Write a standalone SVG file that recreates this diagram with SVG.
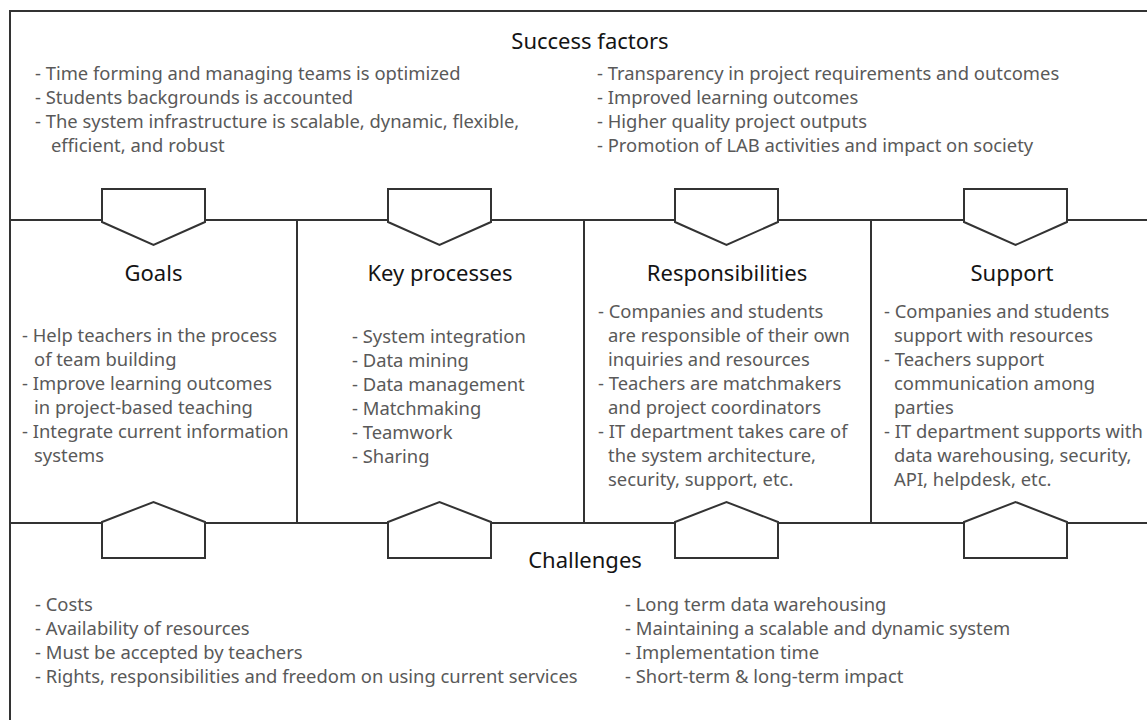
<svg xmlns="http://www.w3.org/2000/svg" width="1147" height="720" viewBox="0 0 1147 720">
  <style>
    .frame { fill: none; stroke: #333333; stroke-width: 2; }
    .tab { fill: #ffffff; stroke: #333333; stroke-width: 2; stroke-linejoin: miter; }
    .title { font-family: "Noto Sans", "Open Sans", sans-serif; font-size: 22px; fill: #141414; text-anchor: middle; }
    .body { font-family: "Noto Sans", "Open Sans", sans-serif; font-size: 18.4px; fill: #595959; }
  </style>
  <rect width="1147" height="720" fill="#ffffff"/>

  <!-- frame and dividing lines -->
  <g id="connectors">
    <rect class="frame" x="10" y="11" width="1160" height="730"/>
    <line class="frame" x1="10" y1="220" x2="1147" y2="220"/>
    <line class="frame" x1="10" y1="523" x2="1147" y2="523"/>
    <line class="frame" x1="297" y1="220" x2="297" y2="523"/>
    <line class="frame" x1="584" y1="220" x2="584" y2="523"/>
    <line class="frame" x1="871" y1="220" x2="871" y2="523"/>
  </g>

  <!-- downward tabs from the success factors band -->
  <g id="tabs-top">
    <polygon class="tab" points="102,189 205,189 205,222 153.5,245 102,222"/>
    <polygon class="tab" points="388,189 491,189 491,222 439.5,245 388,222"/>
    <polygon class="tab" points="675,189 778,189 778,222 726.5,245 675,222"/>
    <polygon class="tab" points="964,189 1067,189 1067,222 1015.5,245 964,222"/>
  </g>

  <!-- upward tabs into the challenges band -->
  <g id="tabs-bottom">
    <polygon class="tab" points="102,558 102,522 153.5,502 205,522 205,558"/>
    <polygon class="tab" points="388,558 388,522 439.5,502 491,522 491,558"/>
    <polygon class="tab" points="675,558 675,522 726.5,502 778,522 778,558"/>
    <polygon class="tab" points="964,558 964,522 1015.5,502 1067,522 1067,558"/>
  </g>

  <g id="success-factors">
    <text class="title" x="590" y="49">Success factors</text>
    <text class="body" x="35" y="80">- Time forming and managing teams is optimized</text>
    <text class="body" x="35" y="104">- Students backgrounds is accounted</text>
    <text class="body" x="35" y="128">- The system infrastructure is scalable, dynamic, flexible,</text>
    <text class="body" x="51" y="152">efficient, and robust</text>
    <text class="body" x="597" y="80">- Transparency in project requirements and outcomes</text>
    <text class="body" x="597" y="104">- Improved learning outcomes</text>
    <text class="body" x="597" y="128">- Higher quality project outputs</text>
    <text class="body" x="597" y="152">- Promotion of LAB activities and impact on society</text>
  </g>

  <g id="goals">
    <text class="title" x="153.5" y="281">Goals</text>
    <text class="body" x="22" y="342">- Help teachers in the process</text>
    <text class="body" x="34" y="366">of team building</text>
    <text class="body" x="22" y="390">- Improve learning outcomes</text>
    <text class="body" x="34" y="414">in project-based teaching</text>
    <text class="body" x="22" y="438">- Integrate current information</text>
    <text class="body" x="34" y="462">systems</text>
  </g>

  <g id="key-processes">
    <text class="title" x="440" y="281">Key processes</text>
    <text class="body" x="352" y="343">- System integration</text>
    <text class="body" x="352" y="367">- Data mining</text>
    <text class="body" x="352" y="391">- Data management</text>
    <text class="body" x="352" y="415">- Matchmaking</text>
    <text class="body" x="352" y="439">- Teamwork</text>
    <text class="body" x="352" y="463">- Sharing</text>
  </g>

  <g id="responsibilities">
    <text class="title" x="727" y="281">Responsibilities</text>
    <text class="body" x="598" y="318">- Companies and students</text>
    <text class="body" x="608" y="342">are responsible of their own</text>
    <text class="body" x="608" y="366">inquiries and resources</text>
    <text class="body" x="598" y="390">- Teachers are matchmakers</text>
    <text class="body" x="608" y="414">and project coordinators</text>
    <text class="body" x="598" y="438">- IT department takes care of</text>
    <text class="body" x="608" y="462">the system architecture,</text>
    <text class="body" x="608" y="486">security, support, etc.</text>
  </g>

  <g id="support">
    <text class="title" x="1012" y="281">Support</text>
    <text class="body" x="884" y="318">- Companies and students</text>
    <text class="body" x="894" y="342">support with resources</text>
    <text class="body" x="884" y="366">- Teachers support</text>
    <text class="body" x="894" y="390">communication among</text>
    <text class="body" x="894" y="414">parties</text>
    <text class="body" x="884" y="438">- IT department supports with</text>
    <text class="body" x="894" y="462">data warehousing, security,</text>
    <text class="body" x="894" y="486">API, helpdesk, etc.</text>
  </g>

  <g id="challenges">
    <text class="title" x="585" y="568">Challenges</text>
    <text class="body" x="35" y="611">- Costs</text>
    <text class="body" x="35" y="635">- Availability of resources</text>
    <text class="body" x="35" y="659">- Must be accepted by teachers</text>
    <text class="body" x="35" y="683">- Rights, responsibilities and freedom on using current services</text>
    <text class="body" x="625" y="611">- Long term data warehousing</text>
    <text class="body" x="625" y="635">- Maintaining a scalable and dynamic system</text>
    <text class="body" x="625" y="659">- Implementation time</text>
    <text class="body" x="625" y="683">- Short-term &amp; long-term impact</text>
  </g>
</svg>
